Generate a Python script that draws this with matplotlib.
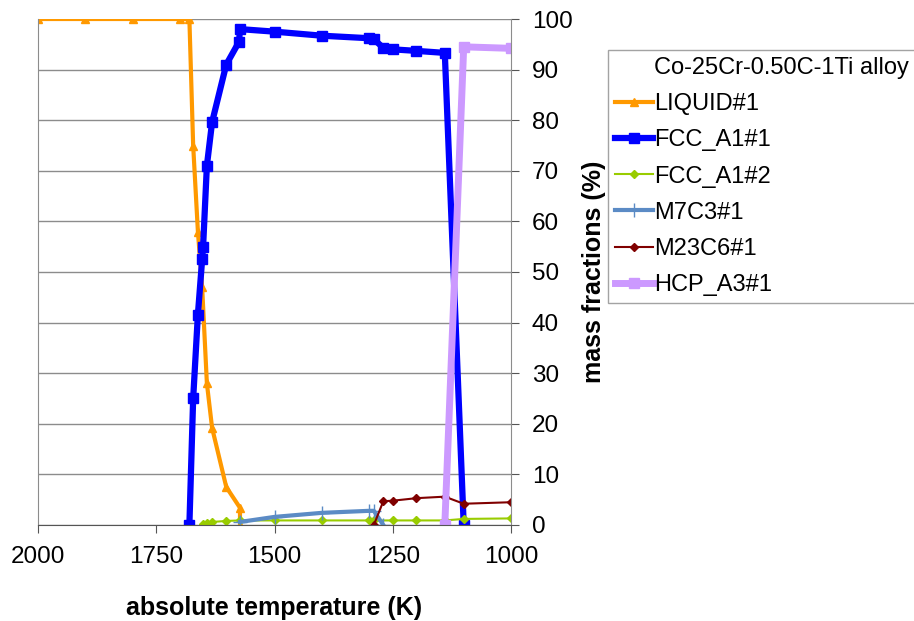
import matplotlib.pyplot as plt

plt.rcParams['font.family'] = ['Liberation Sans', 'DejaVu Sans']

# temperature (K) / mass fraction (%) for each phase
liquid_t = [2000, 1900, 1800, 1700, 1680, 1672, 1662, 1653, 1643, 1632, 1602, 1573, 1573]
liquid_m = [100, 100, 100, 100, 100, 75, 58, 47, 28, 19.2, 7.5, 3.4, 0]

fcc1_t = [1680, 1672, 1662, 1653, 1651, 1643, 1632, 1602, 1575, 1573, 1500, 1400,
          1300, 1290, 1270, 1250, 1200, 1140, 1100]
fcc1_m = [0, 25, 41.6, 52.5, 55, 71, 79.6, 91, 95.5, 98, 97.5, 96.7,
          96.2, 96, 94.3, 94, 93.7, 93.3, 0]

fcc2_t = [1651, 1643, 1632, 1602, 1573, 1500, 1400, 1300, 1290, 1250, 1200, 1140, 1100, 1000]
fcc2_m = [0.1, 0.4, 0.6, 0.8, 0.9, 0.9, 0.9, 0.9, 0.9, 0.9, 0.9, 0.9, 1.2, 1.3]

m7c3_t = [1573, 1500, 1400, 1300, 1290, 1270]
m7c3_m = [0.6, 1.6, 2.4, 2.8, 2.8, 0]

m23c6_t = [1290, 1270, 1250, 1200, 1140, 1100, 1000]
m23c6_m = [0, 4.7, 4.8, 5.3, 5.6, 4.2, 4.5]

hcp_t = [1140, 1100, 1000]
hcp_m = [0, 94.5, 94.2]

fig = plt.figure(figsize=(9.14, 6.21), dpi=100)
ax = fig.add_axes([0.0416, 0.1546, 0.5175, 0.8148])

ax.plot([], [], color='none', label='Co-25Cr-0.50C-1Ti alloy')
ax.plot(liquid_t, liquid_m, color='#FF9900', lw=3, marker='^', ms=6, label='LIQUID#1')
ax.plot(fcc1_t, fcc1_m, color='#0000FF', lw=4.5, marker='s', ms=7, label='FCC_A1#1')
ax.plot(fcc2_t, fcc2_m, color='#99CC00', lw=1.5, marker='D', ms=4, label='FCC_A1#2')
ax.plot(m7c3_t, m7c3_m, color='#5B8BC5', lw=3, marker='+', ms=10, mew=1, label='M7C3#1')
ax.plot(m23c6_t, m23c6_m, color='#800000', lw=1.5, marker='D', ms=4, label='M23C6#1')
ax.plot(hcp_t, hcp_m, color='#CC99FF', lw=5, marker='s', ms=7, label='HCP_A3#1')

ax.set_xlim(2000, 1000)
ax.set_ylim(0, 100)
ax.set_xticks([2000, 1750, 1500, 1250, 1000])
ax.set_yticks(range(0, 101, 10))
ax.yaxis.tick_right()
ax.yaxis.set_label_position('right')
ax.grid(axis='y', color='#8C8C8C', lw=1)
ax.set_axisbelow(True)
for s in ax.spines.values():
    s.set_color('#8C8C8C')
ax.spines['bottom'].set_color('#555555')
ax.spines['top'].set_visible(False)
ax.tick_params(axis='both', labelsize=17.5, color='#555555', direction='out', length=6)
ax.tick_params(axis='x', pad=9)
ax.tick_params(axis='y', pad=9)

ax.set_xlabel('absolute temperature (K)', fontsize=18, fontweight='bold', labelpad=20)
ax.set_ylabel('mass fractions (%)', fontsize=18, fontweight='bold', labelpad=7)

leg = fig.legend(loc='upper left', bbox_to_anchor=(0.6652, 0.9195), fontsize=17,
                 frameon=True, fancybox=False, edgecolor='#8C8C8C', handlelength=1.6,
                 handletextpad=0.05, labelspacing=0.6, borderaxespad=0, borderpad=0.3)
leg.get_frame().set_linewidth(1)

fig.savefig('out.png', dpi=100)
